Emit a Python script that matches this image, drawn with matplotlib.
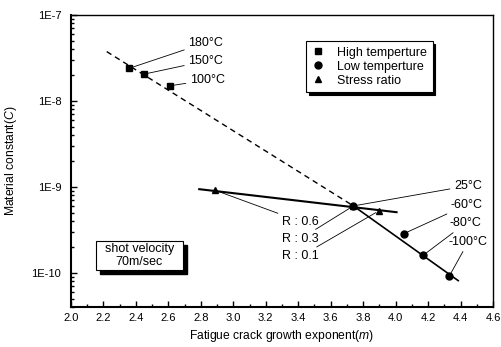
import matplotlib
matplotlib.use("Agg")
import matplotlib.pyplot as plt
from matplotlib.patches import Rectangle
from matplotlib.ticker import FixedLocator, LogLocator, MultipleLocator, NullFormatter
from matplotlib.lines import Line2D

plt.rcParams['font.family'] = ['Liberation Sans', 'DejaVu Sans']
plt.rcParams['mathtext.fontset'] = 'custom'
plt.rcParams['mathtext.rm'] = 'Liberation Sans'
plt.rcParams['mathtext.it'] = 'Liberation Sans:italic'

# ---- data ----
high_m = [2.36, 2.45, 2.61]
high_C = [2.4e-8, 2.05e-8, 1.5e-8]
high_labels = ["180°C", "150°C", "100°C"]
high_label_pos = [(2.723, 4.76e-8), (2.723, 2.92e-8), (2.733, 1.75e-8)]

low_m = [3.74, 4.05, 4.17, 4.33]
low_C = [6.0e-10, 2.85e-10, 1.6e-10, 9.1e-11]
low_labels = ["25°C", "-60°C", "-80°C", "-100°C"]
low_label_pos = [(4.36, 1.03e-9), (4.341, 6.18e-10), (4.335, 3.79e-10), (4.329, 2.31e-10)]

stress_m = [2.89, 3.74, 3.90]
stress_C = [9.1e-10, 6.0e-10, 5.3e-10]
stress_labels = ["R : 0.6", "R : 0.3", "R : 0.1"]
stress_label_pos = [(3.30, 3.95e-10), (3.30, 2.48e-10), (3.30, 1.55e-10)]

high_fit_m = [2.22, 3.74]
high_fit_C = [3.75e-8, 6.0e-10]
low_fit_m = [3.74, 4.386]
low_fit_C = [6.0e-10, 8.1e-11]
stress_fit_m = [2.79, 4.006]
stress_fit_C = [9.4e-10, 5.07e-10]

x_ticks = [2.0, 2.2, 2.4, 2.6, 2.8, 3.0, 3.2, 3.4, 3.6, 3.8, 4.0, 4.2, 4.4, 4.6]
y_ticks = [1e-10, 1e-9, 1e-8, 1e-7]
y_tick_labels = ["1E-10", "1E-9", "1E-8", "1E-7"]

fig = plt.figure(figsize=(5.01, 3.47), dpi=100)
ax = fig.add_axes([0.1417, 0.1153, 0.8423, 0.8415])
ax.set_yscale('log')
ax.set_xlim(2.0, 4.6)
ax.set_ylim(4.0e-11, 1e-7)

# fit lines
ax.plot(high_fit_m, high_fit_C, color='black', lw=1.0, ls=(0, (4, 3)))
ax.plot(low_fit_m, low_fit_C, color='black', lw=1.2)
ax.plot(stress_fit_m, stress_fit_C, color='black', lw=1.5)

# markers
ax.plot(high_m, high_C, 's', color='black', ms=5, ls='none')
ax.plot(low_m, low_C, 'o', color='black', ms=5, ls='none')
ax.plot(stress_m, stress_C, '^', color='black', ms=5, ls='none')

fs = 9
tfs = 8
ann = dict(arrowstyle='-', color='black', lw=0.6, shrinkA=1, shrinkB=3)
for m, c, lab, pos in zip(high_m, high_C, high_labels, high_label_pos):
    ax.annotate(lab, xy=(m, c), xytext=pos, ha='left', va='center', fontsize=fs, arrowprops=ann)
for m, c, lab, pos in zip(low_m, low_C, low_labels, low_label_pos):
    ax.annotate(lab, xy=(m, c), xytext=pos, ha='left', va='center', fontsize=fs, arrowprops=ann)
for m, c, lab, pos in zip(stress_m, stress_C, stress_labels, stress_label_pos):
    ax.annotate(lab, xy=(m, c), xytext=pos, ha='left', va='center', fontsize=fs, arrowprops=ann)

# axes styling
ax.xaxis.set_major_locator(FixedLocator(x_ticks))
ax.xaxis.set_minor_locator(MultipleLocator(0.1))
ax.set_xticklabels([f"{v:.1f}" for v in x_ticks])
ax.yaxis.set_major_locator(FixedLocator(y_ticks))
ax.set_yticklabels(y_tick_labels)
ax.yaxis.set_minor_locator(LogLocator(base=10, subs=range(2, 10)))
ax.yaxis.set_minor_formatter(NullFormatter())
ax.tick_params(which='both', direction='in', top=False, right=False, labelsize=tfs, width=1.0)
ax.tick_params(which='major', length=4)
ax.tick_params(which='minor', length=2)
ax.tick_params(axis='x', pad=4)
ax.tick_params(axis='y', pad=7)
for s in ['left', 'bottom']:
    ax.spines[s].set_linewidth(1.5)
for s in ['top', 'right']:
    ax.spines[s].set_linewidth(1.0)

ax.set_xlabel("Fatigue crack growth exponent($m$)", fontsize=8.7, labelpad=4)
ax.set_ylabel("Material constant($C$)", fontsize=8.7, labelpad=9)

# legend
handles = [Line2D([], [], marker='s', color='black', ls='none', ms=5),
           Line2D([], [], marker='o', color='black', ls='none', ms=5),
           Line2D([], [], marker='^', color='black', ls='none', ms=5)]
leg = ax.legend(handles, ["High temperture", "Low temperture", "Stress ratio"],
                loc='upper left', bbox_to_anchor=(0.543, 0.9315), fontsize=fs,
                frameon=True, fancybox=False, edgecolor='black', framealpha=1,
                shadow={'color': 'black', 'alpha': 1},
                handletextpad=1.0, borderpad=0.45, labelspacing=0.15, handlelength=1.0)
leg.get_frame().set_linewidth(0.8)

# shot velocity box
bx0, by0, bw, bh = 0.059, 0.1267, 0.206, 0.099
ax.add_patch(Rectangle((bx0 + 0.010, by0 - 0.014), bw, bh, transform=ax.transAxes,
                       facecolor='black', edgecolor='black', zorder=5))
ax.add_patch(Rectangle((bx0, by0), bw, bh, transform=ax.transAxes,
                       facecolor='white', edgecolor='black', lw=0.8, zorder=6))
ax.text(bx0 + bw / 2, by0 + bh / 2, "shot velocity\n70m/sec", transform=ax.transAxes,
        ha='center', va='center', fontsize=fs, zorder=7, linespacing=1.2)

fig.savefig("out.png", dpi=100)
